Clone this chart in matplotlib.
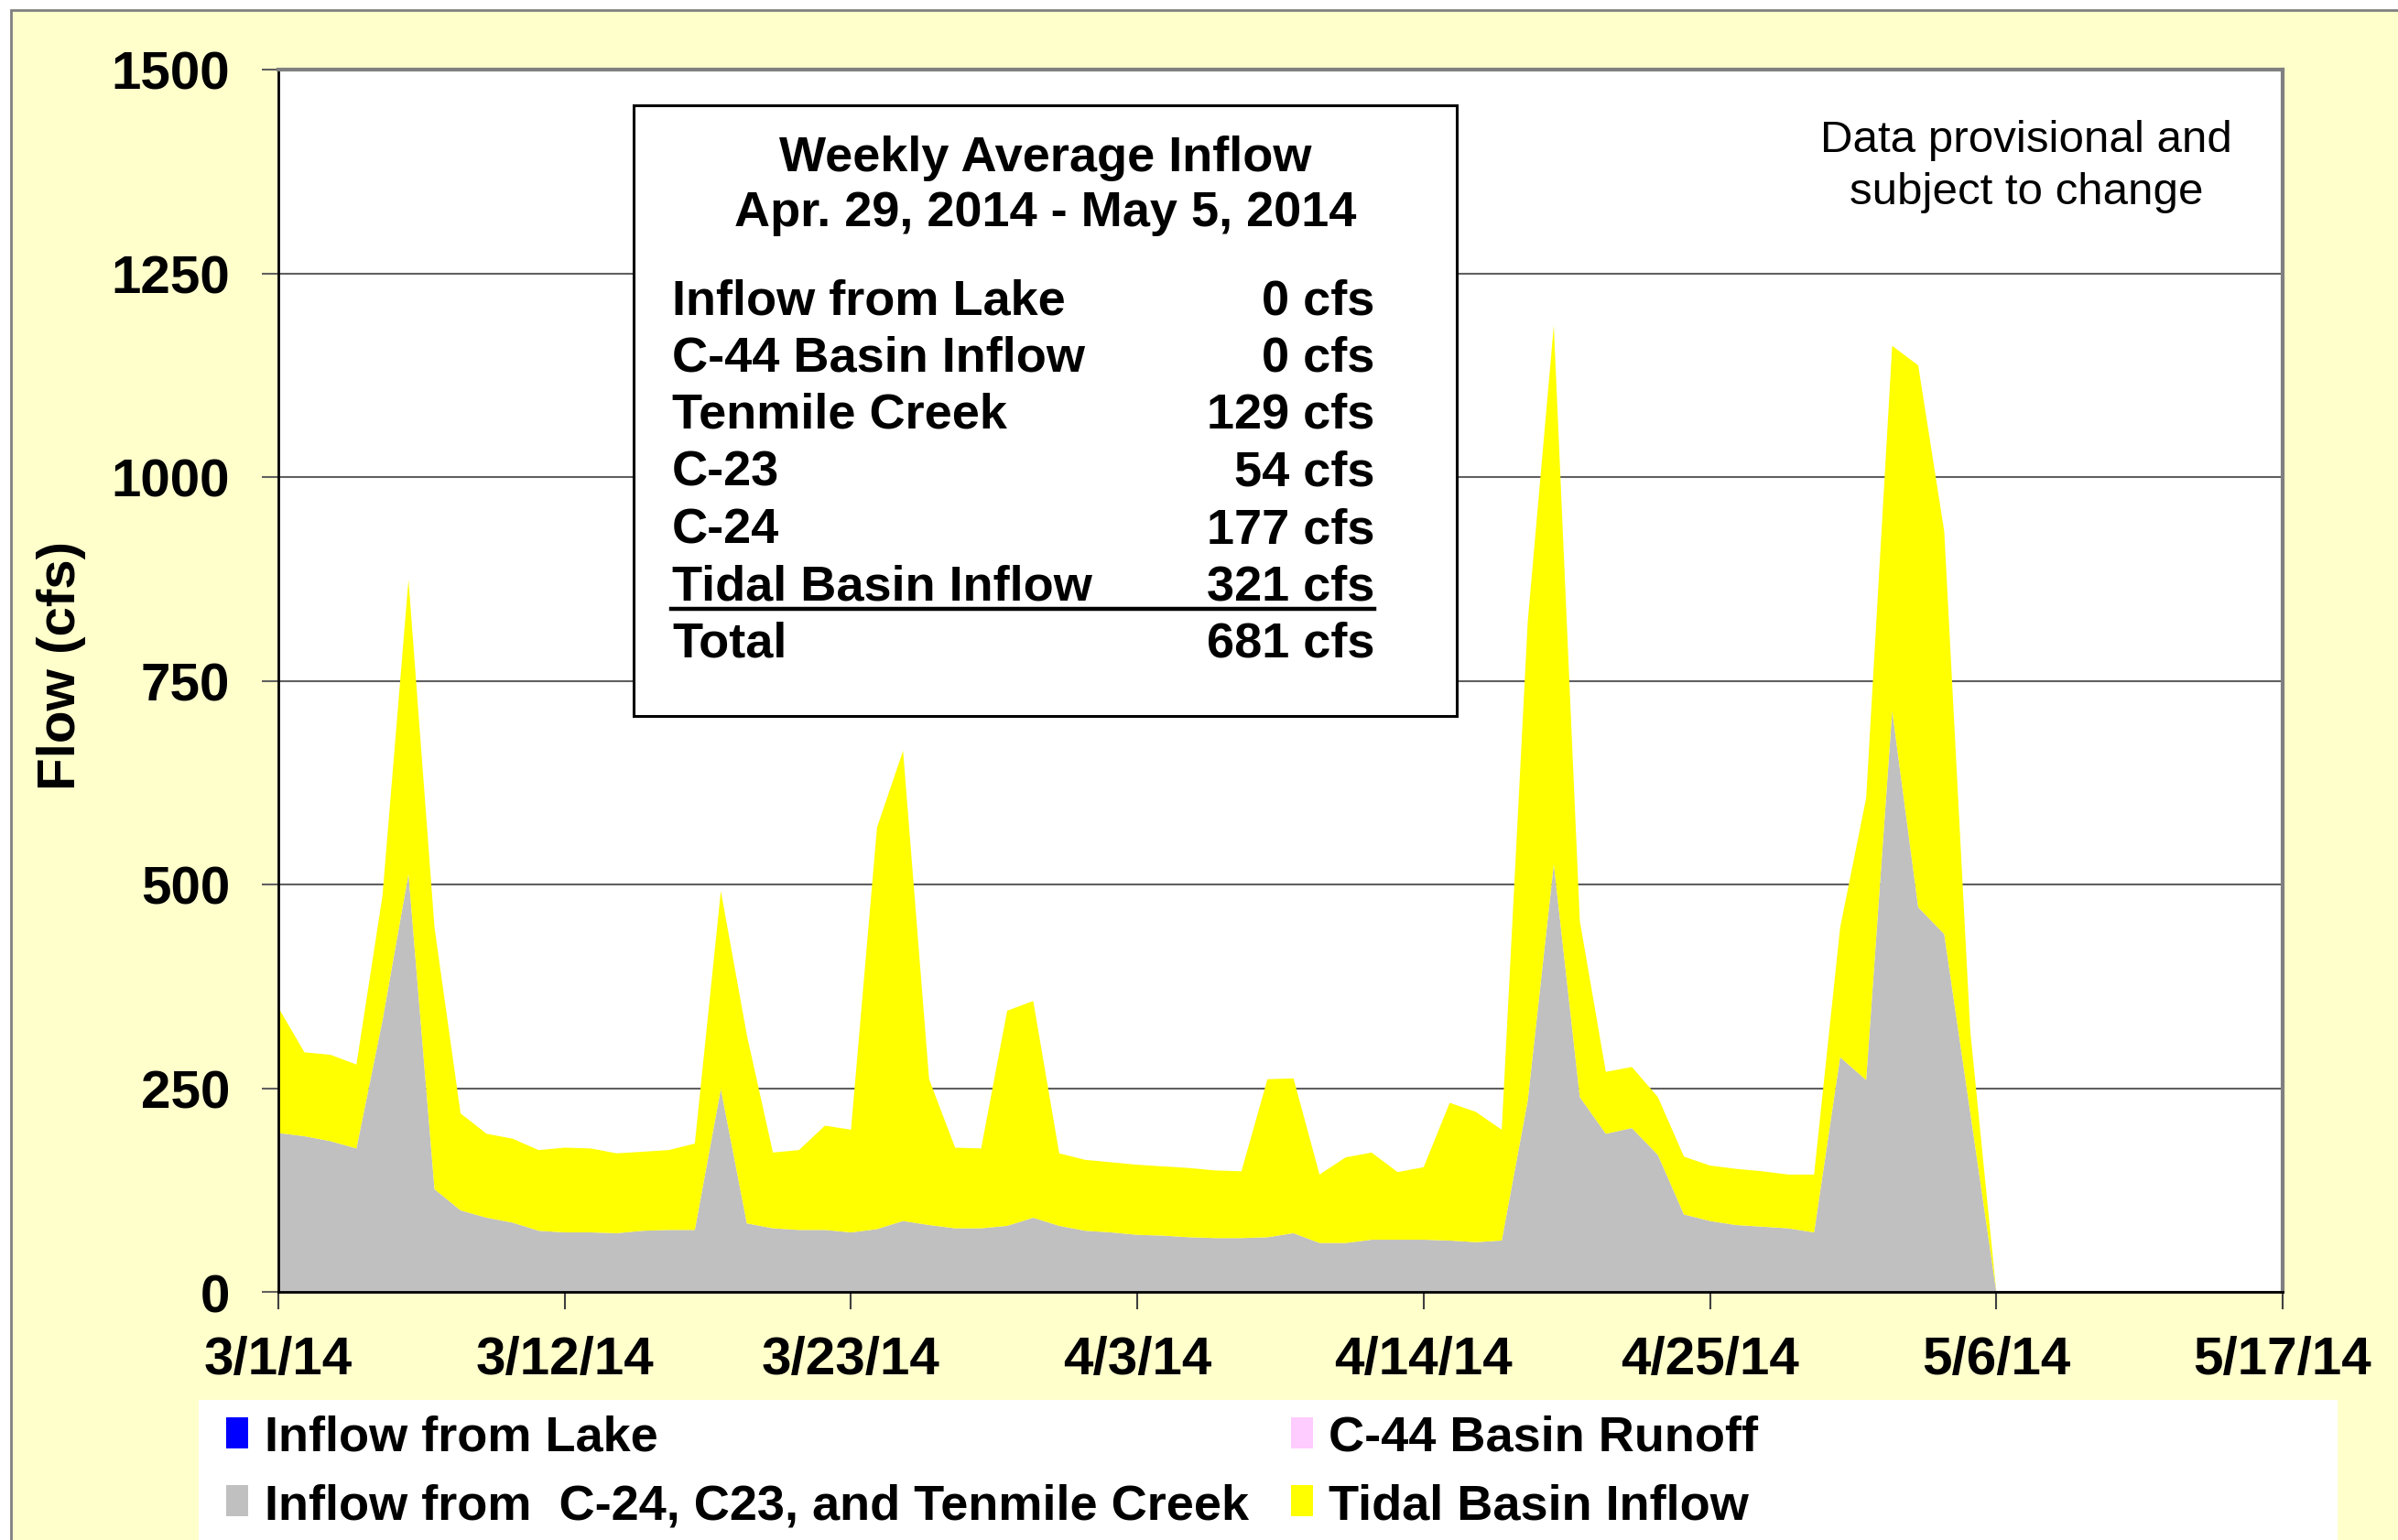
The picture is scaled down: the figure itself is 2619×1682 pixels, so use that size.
import numpy as np
import pandas as pd
import matplotlib
matplotlib.use("Agg")
import matplotlib.pyplot as plt
from matplotlib.patches import Patch, Rectangle
from matplotlib.lines import Line2D

plt.rcParams['font.family'] = ['Liberation Sans', 'DejaVu Sans']
plt.rcParams['font.weight'] = 'bold'

# daily flows (cfs), 3/1/14 .. 5/6/14
dates = pd.date_range("2014-03-01", "2014-05-06", freq="D")
lake_inflow = [0] * 67
c44_runoff = [0] * 67
c24_c23_tenmile = [195, 191, 185, 176, 333, 513, 126, 100, 91, 85,
                   75, 73, 73, 72, 75, 76, 76, 249, 84, 78,
                   76, 76, 73, 77, 87, 82, 78, 78, 81, 91,
                   81, 75, 73, 70, 69, 67, 66, 66, 67, 72,
                   60, 60, 64, 64, 64, 63, 61, 63, 235, 525,
                   239, 194, 201, 168, 95, 87, 82, 80, 78, 73,
                   288, 260, 713, 472, 439, 220, 0]
tidal_inflow = [154, 103, 106, 103, 153, 361, 321, 119, 103, 103,
                99, 104, 103, 98, 97, 98, 106, 243, 231, 93,
                98, 128, 126, 493, 577, 179, 99, 98, 264, 266,
                89, 87, 86, 86, 85, 85, 83, 82, 194, 190,
                84, 105, 107, 83, 89, 169, 160, 136, 588, 661,
                216, 76, 75, 71, 71, 68, 69, 68, 66, 71,
                159, 346, 448, 665, 494, 100, 0]

series_names = ["Inflow from Lake", "C-44 Basin Runoff",
                "Inflow from  C-24, C23, and Tenmile Creek", "Tidal Basin Inflow"]
series_colors = ["#0000FF", "#FFCCFF", "#C0C0C0", "#FFFF00"]

tick_dates = pd.date_range("2014-03-01", "2014-05-17", freq="11D")
tick_labels = ["3/1/14", "3/12/14", "3/23/14", "4/3/14", "4/14/14", "4/25/14", "5/6/14", "5/17/14"]

box_title = "Weekly Average Inflow\nApr. 29, 2014 - May 5, 2014"
box_labels = ["Inflow from Lake", "C-44 Basin Inflow", "Tenmile Creek", "C-23", "C-24",
              "Tidal Basin Inflow", "Total"]
box_values = [0, 0, 129, 54, 177, 321, 681]

W, H = 2619, 1683
fig = plt.figure(figsize=(W / 100, H / 100), dpi=100, facecolor="white")

def fx(px):
    return px / W

def fy(py):
    return 1 - py / H

# yellow chart background with grey border
fig.patches.append(Rectangle((fx(12), -0.02), 1.0, fy(12) + 0.02, transform=fig.transFigure,
                             facecolor="#FFFFCC", edgecolor="#808080", lw=2, zorder=0))
# white legend area
fig.patches.append(Rectangle((fx(217), 0), fx(2553) - fx(217), fy(1530), transform=fig.transFigure,
                             facecolor="white", edgecolor="none", zorder=1))

ax = fig.add_axes([fx(304), fy(1412), fx(2493) - fx(304), fy(77) - fy(1412)])
ax.set_zorder(3)
ax.set_facecolor("white")

ax.stackplot(dates, lake_inflow, c44_runoff, c24_c23_tenmile, tidal_inflow,
             colors=series_colors, lw=0, zorder=2)

ax.set_xlim(tick_dates[0], tick_dates[-1])
ax.set_ylim(0, 1500)
ax.set_yticks(range(0, 1501, 250))
ax.set_xticks(tick_dates)
ax.set_xticklabels(tick_labels)
ax.tick_params(axis="both", labelsize=42)
ax.tick_params(axis="y", length=13, width=1.5, color="#606060", pad=25)
ax.tick_params(axis="x", length=14, width=1.5, color="#404040", pad=20)

ax.grid(axis="y", color="#606060", lw=1.5, zorder=1)
ax.set_axisbelow(True)
for s in ["top", "right"]:
    ax.spines[s].set_color("#808080")
    ax.spines[s].set_linewidth(3)
for s in ["left", "bottom"]:
    ax.spines[s].set_color("black")
    ax.spines[s].set_linewidth(2)

ax.set_ylabel("Flow (cfs)", fontsize=42, fontweight="bold")
ax.yaxis.set_label_coords(-0.096, 0.513)

# weekly summary box
ax.add_patch(Rectangle((fx(692), fy(783)), fx(1591) - fx(692), fy(116) - fy(783),
                       transform=fig.transFigure, facecolor="white", edgecolor="black",
                       lw=2.2, zorder=5))
title_lines = box_title.split("\n")
ax.text(fx(1142), fy(187), title_lines[0], ha="center", va="baseline", fontsize=39,
        transform=fig.transFigure, zorder=6)
ax.text(fx(1142), fy(247), title_lines[1], ha="center", va="baseline", fontsize=39,
        transform=fig.transFigure, zorder=6)
for i, (lab, val) in enumerate(zip(box_labels, box_values)):
    yb = 343 + 62.5 * i
    ax.text(fx(734), fy(yb), lab, ha="left", va="baseline", fontsize=39,
            transform=fig.transFigure, zorder=6)
    ax.text(fx(1501), fy(yb), f"{val} cfs", ha="right", va="baseline", fontsize=39,
            transform=fig.transFigure, zorder=6)
ax.add_line(Line2D([fx(733), fx(1501)], [fy(666), fy(666)], color="black", lw=3.2,
                   transform=fig.transFigure, zorder=6))

ax.text(fx(2213), fy(166), "Data provisional and", ha="center", va="baseline",
        fontsize=35.5, fontweight="normal", transform=fig.transFigure, zorder=6)
ax.text(fx(2213), fy(223), "subject to change", ha="center", va="baseline",
        fontsize=35.5, fontweight="normal", transform=fig.transFigure, zorder=6)

# legend: column 1 = lake, C-24 group; column 2 = C-44, tidal
order = [0, 2, 1, 3]
handles = [Patch(facecolor=series_colors[i], edgecolor="none") for i in order]
labels = [series_names[i] for i in order]
leg = fig.legend(handles, labels, ncol=2, loc="upper left",
                 bbox_to_anchor=(fx(247), fy(1546)), frameon=False,
                 prop={"size": 39, "weight": "bold"}, borderpad=0, borderaxespad=0,
                 handlelength=0.45, handleheight=0.6, handletextpad=0.32,
                 columnspacing=0.85, labelspacing=0.45)
leg.set_zorder(4)

fig.savefig("out.png", dpi=100)
